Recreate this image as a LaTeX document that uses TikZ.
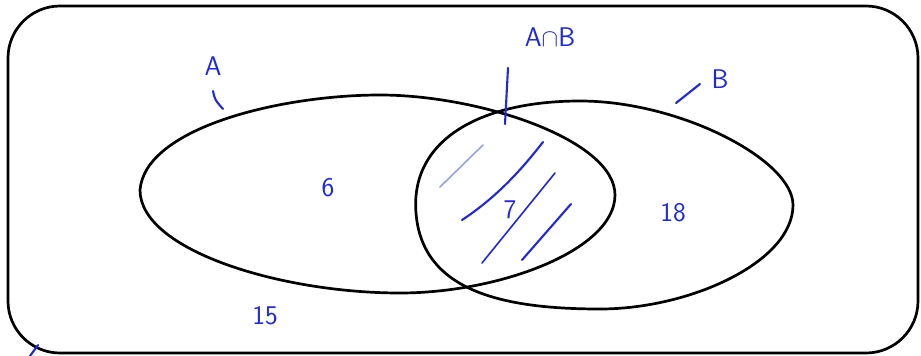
\documentclass[tikz,border=0pt]{standalone}
\usepackage{fontspec}
\definecolor{pen}{RGB}{30,40,225}
\definecolor{penlight}{RGB}{150,160,235}
\begin{document}
\begin{tikzpicture}[x=1pt,y=-1pt,
  outline/.style={line width=2.7pt,black},
  stroke/.style={line width=2.1pt,pen,line cap=round},
  lbl/.style={text=pen,font=\sffamily\fontsize{27}{29}\selectfont,inner sep=0pt}]
\useasboundingbox (0,0) rectangle (921,356);
\fill[white] (0,0) rectangle (921,356);
% universe
\draw[outline,rounded corners=52pt] (8,6) rectangle (918,353);
% set A
\draw[outline] (140,190) .. controls (145,128) and (280,95) .. (380,95)
  .. controls (480,95) and (615,140) .. (615,195)
  .. controls (615,250) and (500,293) .. (400,293)
  .. controls (280,293) and (140,250) .. (140,190) -- cycle;
% set B
\draw[outline] (793,205) .. controls (793,262) and (690,309) .. (600,309)
  .. controls (500,309) and (422,290) .. (416,213)
  .. controls (410,140) and (480,101) .. (580,101)
  .. controls (680,101) and (793,160) .. (793,205) -- cycle;
% hatching
\draw[line width=1.6pt,penlight,line cap=round] (440,187) -- (483,145);
\draw[stroke] (462,220) .. controls (500,195) and (525,165) .. (543,142);
\draw[stroke,line width=1.6pt] (482,263) -- (555,173);
\draw[stroke] (522,260) -- (571,204);
% ticks
\draw[stroke] (213,91) .. controls (215,100) .. (223,109);
\draw[stroke] (676,103) -- (700,84);
\draw[stroke] (508,68) -- (505,124);
\draw[stroke] (30,356) -- (38,345);
% labels
\node[lbl] (la) at (213,66) {A};
\node[lbl] (lb) at (720,79) {B};
\node[lbl] (lab) at (550,37) {A$\cap$B};
\node[lbl] (n6) at (328,188) {6};
\node[lbl] (n7) at (510,210) {7};
\node[lbl] (n18) at (673,213) {18};
\node[lbl] (n15) at (265,316) {15};
\end{tikzpicture}
\end{document}
